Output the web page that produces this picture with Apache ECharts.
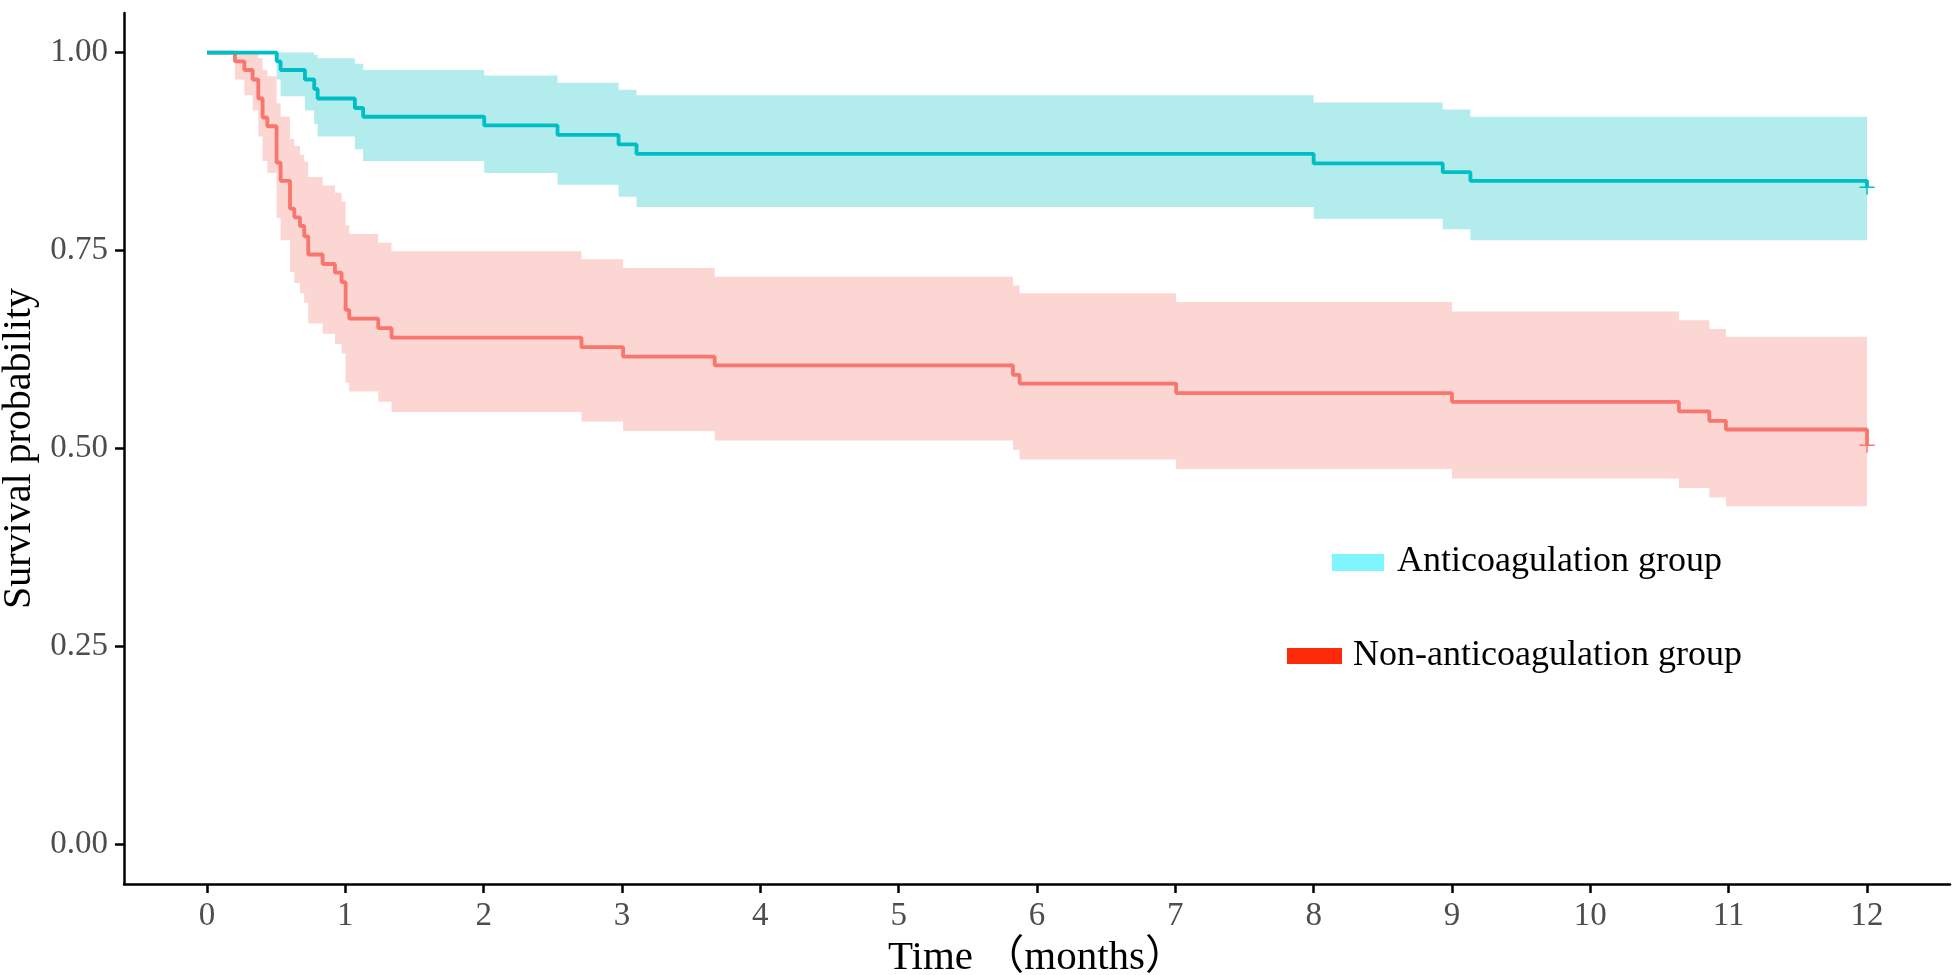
<!DOCTYPE html>
<html>
<head>
<meta charset="utf-8">
<script src="https://cdn.jsdelivr.net/npm/echarts@6/dist/echarts.min.js"></script>
<style>
html,body{margin:0;padding:0;background:#ffffff;}
#chart{width:1955px;height:975px;}
</style>
</head>
<body>
<div id="chart"></div>
<script>
// ---- tick labels ----
const xTicks = [0,1,2,3,4,5,6,7,8,9,10,11,12];
const yTicks = [0, 0.25, 0.5, 0.75, 1];

// ---- Anticoagulation group (teal) ----
const antiTime  = [0, 0.504, 0.532, 0.708, 0.775, 0.800, 1.069, 1.129, 2.004, 2.534, 2.975, 3.105, 8.000, 8.933, 9.133, 12];
const antiSurv  = [1, 0.989, 0.978, 0.966, 0.954, 0.942, 0.930, 0.919, 0.908, 0.896, 0.884, 0.872, 0.860, 0.849, 0.838, 0.830];
const antiLower = [1, 0.966, 0.945, 0.927, 0.910, 0.894, 0.878, 0.863, 0.848, 0.833, 0.818, 0.805, 0.790, 0.777, 0.763, 0.763];
const antiUpper = [1, 1.000, 1.000, 1.000, 0.997, 0.993, 0.986, 0.978, 0.971, 0.962, 0.953, 0.946, 0.937, 0.928, 0.919, 0.919];
const antiCensor = [[12, 0.830]];

// ---- Non-anticoagulation group (red) ----
const nonTime  = [0, 0.202, 0.270, 0.330, 0.371, 0.402, 0.436, 0.503, 0.532, 0.600, 0.631, 0.672, 0.703, 0.732, 0.836, 0.925, 0.973, 1.002, 1.028, 1.238, 1.334, 2.707, 3.008, 3.670, 5.826, 5.874, 7.006, 9.000, 10.64, 10.86, 10.98, 12];
const nonSurv  = [1, 0.989, 0.978, 0.966, 0.942, 0.918, 0.907, 0.861, 0.838, 0.803, 0.792, 0.781, 0.768, 0.745, 0.733, 0.722, 0.710, 0.675, 0.664, 0.652, 0.640, 0.628, 0.616, 0.605, 0.593, 0.582, 0.570, 0.559, 0.547, 0.535, 0.524, 0.504];
const nonLower = [1, 0.966, 0.946, 0.927, 0.894, 0.863, 0.848, 0.791, 0.763, 0.723, 0.709, 0.696, 0.684, 0.658, 0.645, 0.632, 0.620, 0.583, 0.572, 0.559, 0.546, 0.534, 0.522, 0.510, 0.498, 0.486, 0.474, 0.462, 0.450, 0.438, 0.427, 0.427];
const nonUpper = [1, 1.000, 1.000, 1.000, 0.993, 0.978, 0.970, 0.936, 0.919, 0.891, 0.882, 0.871, 0.862, 0.843, 0.832, 0.823, 0.812, 0.782, 0.771, 0.760, 0.749, 0.739, 0.728, 0.717, 0.706, 0.696, 0.685, 0.673, 0.662, 0.651, 0.641, 0.641];
const nonCensor = [[12, 0.504]];

const groupNames = ['Anticoagulation group', 'Non-anticoagulation group'];

const TEAL = '#00BFC4', RED = '#F8766D';
const TEAL_FILL = '#B3ECED', RED_FILL = '#FCD6D3';
const SERIF = '"Liberation Serif", "Times New Roman", serif';

function bandSeries(name, times, lower, upper, fill, z) {
  return {
    name: name + ' CI',
    type: 'custom',
    coordinateSystem: 'cartesian2d',
    silent: true,
    z: z,
    clip: true,
    data: [[times[0], lower[0]]],
    encode: {x: 0, y: 1},
    renderItem: function (params, api) {
      const pts = [];
      for (let i = 0; i < times.length - 1; i++) {
        pts.push(api.coord([times[i], upper[i]]));
        pts.push(api.coord([times[i + 1], upper[i]]));
      }
      for (let i = times.length - 2; i >= 0; i--) {
        pts.push(api.coord([times[i + 1], lower[i]]));
        pts.push(api.coord([times[i], lower[i]]));
      }
      return {type: 'polygon', shape: {points: pts}, style: {fill: fill, stroke: null}};
    }
  };
}

function lineSeries(name, times, surv, color, z) {
  return {
    name: name,
    type: 'line',
    step: 'end',
    z: z,
    showSymbol: false,
    symbol: 'none',
    silent: true,
    clip: true,
    lineStyle: {color: color, width: 3.8},
    data: times.map((t, i) => [t, surv[i]])
  };
}

const PLUS = 'path://M-0.6,-6 L0.6,-6 L0.6,-0.6 L6,-0.6 L6,0.6 L0.6,0.6 L0.6,6 L-0.6,6 L-0.6,0.6 L-6,0.6 L-6,-0.6 L-0.6,-0.6 Z';

function censorSeries(name, pts, color) {
  return {
    name: name + ' censor',
    type: 'scatter',
    z: 6,
    silent: true,
    symbol: PLUS,
    symbolSize: 15,
    itemStyle: {color: color, opacity: 1},
    data: pts
  };
}

const chart = echarts.init(document.getElementById('chart'), null, {renderer: 'canvas'});
chart.setOption({
  backgroundColor: '#ffffff',
  animation: false,
  grid: {left: 124, right: 5, top: 13, bottom: 91, containLabel: false, outerBoundsMode: 'none'},
  xAxis: {
    type: 'value',
    min: -0.6, max: 12.6,
    name: 'Time （months）',
    nameLocation: 'middle',
    nameGap: 47,
    nameTextStyle: {fontFamily: SERIF + ', "Noto Sans CJK SC"', fontSize: 41, color: '#000000'},
    axisLine: {show: true, onZero: false, lineStyle: {color: '#000000', width: 2.5}},
    axisTick: {show: true, customValues: xTicks, length: 9, lineStyle: {color: '#000000', width: 2.5}},
    axisLabel: {show: true, customValues: xTicks, margin: 16, fontFamily: SERIF, fontSize: 33, color: '#4D4D4D',
      formatter: v => String(v)},
    splitLine: {show: false}
  },
  yAxis: {
    type: 'value',
    min: -0.05, max: 1.05,
    name: 'Survival probability',
    nameLocation: 'middle',
    nameGap: 80,
    nameTextStyle: {fontFamily: SERIF, fontSize: 40, color: '#000000'},
    axisLine: {show: true, onZero: false, lineStyle: {color: '#000000', width: 2.5}},
    axisTick: {show: true, customValues: yTicks, length: 9, lineStyle: {color: '#000000', width: 2.5}},
    axisLabel: {show: true, customValues: yTicks, margin: 16, fontFamily: SERIF, fontSize: 33, color: '#4D4D4D',
      formatter: v => Number(v).toFixed(2)},
    splitLine: {show: false}
  },
  graphic: [
    {type: 'rect', shape: {x: 1332, y: 554, width: 52, height: 17}, style: {fill: '#7FF6FF'}},
    {type: 'text', x: 1397, y: 562, style: {text: groupNames[0], font: '36px ' + SERIF, fill: '#000000', verticalAlign: 'middle', align: 'left'}},
    {type: 'rect', shape: {x: 1287, y: 648, width: 55, height: 16}, style: {fill: '#FF2A0A'}},
    {type: 'text', x: 1353, y: 656, style: {text: groupNames[1], font: '36px ' + SERIF, fill: '#000000', verticalAlign: 'middle', align: 'left'}}
  ],
  series: [
    bandSeries(groupNames[1], nonTime, nonLower, nonUpper, RED_FILL, 1),
    bandSeries(groupNames[0], antiTime, antiLower, antiUpper, TEAL_FILL, 2),
    lineSeries(groupNames[1], nonTime, nonSurv, RED, 3),
    lineSeries(groupNames[0], antiTime, antiSurv, TEAL, 4),
    censorSeries(groupNames[0], antiCensor, TEAL),
    censorSeries(groupNames[1], nonCensor, RED)
  ]
});
</script>
</body>
</html>
